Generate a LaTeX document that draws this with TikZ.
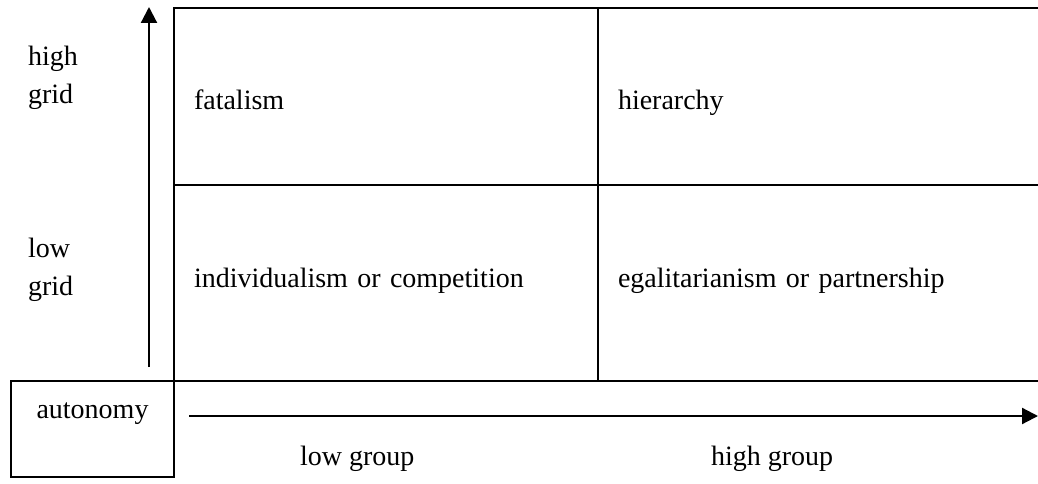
\documentclass[tikz,border=0pt]{standalone}
\usepackage{fontspec}
\setmainfont{Liberation Serif}
\usetikzlibrary{positioning, arrows.meta}

\begin{document}
\begin{tikzpicture}[x=1pt, y=-1pt, line width=2.2pt, node distance=0pt,
    font=\fontsize{28pt}{38pt}\selectfont,
    cell/.style={draw, rectangle, outer sep=0pt, inner xsep=20pt, inner ysep=0pt, align=left, text height=102pt},
    axis/.style={-{Triangle[length=16pt, width=16pt]}},
    lbl/.style={align=left, anchor=west, inner sep=0pt}]
    \useasboundingbox (0,0) rectangle (1038,484);
    \node[cell, text width=384pt, text depth=75pt, anchor=north west] (fatal) at (174,8) {fatalism};
    \node[cell, text width=420pt, text depth=75pt] (hier) [right= of fatal] {hierarchy};
    \node[cell, text width=384pt, text depth=94pt] (indiv) [below= of fatal] {individualism or competition};
    \node[cell, text width=420pt, text depth=94pt] (egal) [right= of indiv] {egalitarianism or partnership};
    \node[draw, outer sep=0pt, inner ysep=0pt, minimum width=163pt, text height=37pt, text depth=59pt,
        anchor=north east] (auto) at (indiv.south west) {autonomy};
    \node[lbl] (hgrid) at (27,78) {high\\grid};
    \node[lbl] (lgrid) at (27,270) {low\\grid};
    \node[anchor=base west, inner sep=0pt] (lgroup) at (299,465) {low group};
    \node[anchor=base west, inner sep=0pt] (hgroup) at (710,465) {high group};
    \coordinate (gridbot) at (149,367);
    \coordinate (gridtop) at (149,7);
    \coordinate (groupl) at (189,416);
    \coordinate (groupr) at (1038,416);
        \draw[axis] (gridbot) -- (gridtop);
        \draw[axis] (groupl) -- (groupr);

\end{tikzpicture}
\end{document}
